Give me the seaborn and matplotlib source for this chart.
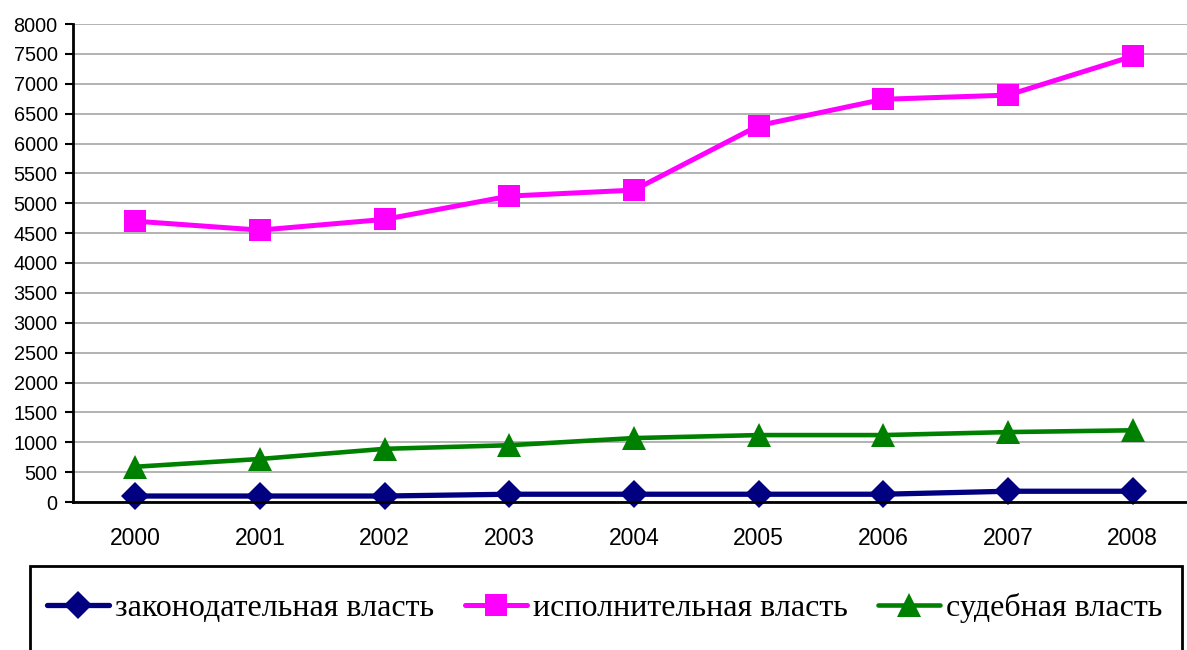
import matplotlib
matplotlib.use("Agg")
import matplotlib.pyplot as plt
import pandas as pd
import seaborn as sns
from matplotlib.patches import Rectangle
from matplotlib.ticker import MultipleLocator, FixedLocator

years = ["2000", "2001", "2002", "2003", "2004", "2005", "2006", "2007", "2008"]
legislative = [100, 100, 100, 130, 130, 130, 130, 180, 180]
executive = [4700, 4550, 4730, 5120, 5220, 6300, 6740, 6810, 7460]
judicial = [590, 720, 890, 950, 1070, 1120, 1120, 1170, 1200]

names = ["законодательная власть", "исполнительная власть", "судебная власть"]
colors = ["#000080", "#FF00FF", "#008000"]
markers = ["D", "s", "^"]
msizes = [14, 16, 17]
lwidths = [3.8, 3.6, 3.3]

df = pd.DataFrame({
    "year": years * 3,
    "value": legislative + executive + judicial,
    "series": [names[0]] * 9 + [names[1]] * 9 + [names[2]] * 9,
})

sns.set_style("white")
plt.rcParams["font.family"] = ["Liberation Sans", "DejaVu Sans"]

fig = plt.figure(figsize=(11.87, 6.5), dpi=100)
ax = fig.add_axes([73 / 1187, 1 - 502 / 650, (1195 - 73) / 1187, (502 - 24) / 650])

for name, c, m, ms, lw in zip(names, colors, markers, msizes, lwidths):
    sub = df[df["series"] == name]
    sns.lineplot(data=sub, x="year", y="value", ax=ax, color=c, marker=m,
                 markersize=ms, markeredgecolor=c, markeredgewidth=0, linewidth=lw,
                 label=name, legend=False, clip_on=False, zorder=3)

ax.set_xlim(-0.5, 8.5)
ax.set_ylim(0, 8000)
ax.yaxis.set_major_locator(MultipleLocator(500))
ax.xaxis.set_major_locator(FixedLocator(range(9)))
ax.xaxis.set_minor_locator(FixedLocator([i - 0.5 for i in range(10)]))
ax.set_xticklabels(years)
ax.tick_params(axis="x", which="major", length=0, pad=18, labelsize=16.5, labelcolor="black")
ax.tick_params(axis="x", which="minor", length=6, width=1.5, direction="out", color="black")
ax.tick_params(axis="y", length=6, width=1.5, direction="out", color="black", pad=5,
               labelsize=14.3, labelcolor="black", left=True)
ax.grid(axis="y", color="#a6a6a6", linewidth=1.2)
ax.grid(axis="x", visible=False)
ax.set_xlabel("")
ax.set_ylabel("")
for s in ["top", "right"]:
    ax.spines[s].set_visible(False)
for s in ["left", "bottom"]:
    ax.spines[s].set_color("black")
    ax.spines[s].set_linewidth(2)
    ax.spines[s].set_zorder(4)

# legend box
fig.patches.append(Rectangle((30 / 1187, -0.01), (1182 - 30) / 1187, 1 - 566 / 650 + 0.01,
                             transform=fig.transFigure, fill=False, edgecolor="black",
                             linewidth=2))
handles, labels = ax.get_legend_handles_labels()
fig.legend(handles, labels, loc="center left", bbox_to_anchor=(47 / 1187, 1 - 608 / 650),
           ncol=3, frameon=False, borderpad=0, borderaxespad=0, handlelength=1.95,
           handletextpad=0.18, columnspacing=0.95, labelcolor="black",
           prop={"family": "Liberation Serif", "size": 23})

fig.savefig("out.png", dpi=100)
